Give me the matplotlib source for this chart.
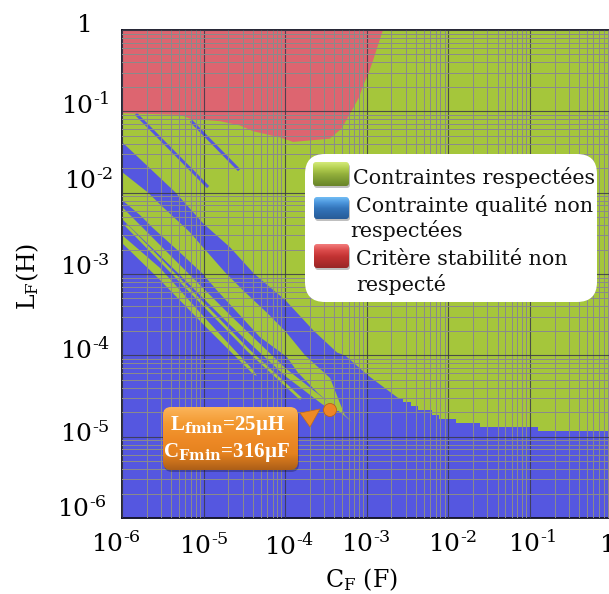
import numpy as np
import matplotlib
matplotlib.use('Agg')
import matplotlib.pyplot as plt
from matplotlib.patches import FancyBboxPatch, Circle, Polygon
from matplotlib.colors import LinearSegmentedColormap
from matplotlib.transforms import ScaledTranslation

plt.rcParams['font.family'] = 'DejaVu Serif'
plt.rcParams['mathtext.fontset'] = 'dejavuserif'

# all values below are log10(C) and log10(L)
red_x = [-6, -5.29, -5.17, -4.805, -4.56, -4.40, -4.05, -3.91, -3.46, -3.32, -3.20, -3.10, -3.05, -2.98, -2.93, -2.87, -2.81]
red_y = [-1.017, -1.037, -1.086, -1.115, -1.168, -1.238, -1.32, -1.37, -1.33, -1.21, -1.004, -0.82, -0.676, -0.513, -0.369, -0.184, 0]

blue_x = [-6, -5.35, -5.01, -4.68, -4.39, -4.00, -3.66, -3.37, -3.27, -2.99, -2.63, -2.593]
blue_y = [-1.377, -1.992, -2.373, -2.668, -2.988, -3.32, -3.689, -3.96, -3.996, -4.242, -4.513, -4.525]

tail_x = [-2.593, -2.556, -2.458, -2.373, -2.201, -2.115, -1.907, -1.613, -0.902, 0]
tail_y = [-4.525, -4.574, -4.623, -4.672, -4.734, -4.783, -4.832, -4.881, -4.931, -4.931]

green_a_x = [-6, -5.69, -5.50, -5.17, -5.01, -4.74, -4.52, -4.22, -3.99, -3.76, -3.45, -3.33, -3.27, -3.18,
             -3.33, -3.60, -3.84, -3.98, -4.31, -4.58, -4.84, -5.02, -5.35, -5.62, -5.78, -6]
green_a_y = [-1.746, -1.992, -2.176, -2.484, -2.668, -2.976, -3.197, -3.48, -3.713, -3.996, -4.279, -4.586, -4.734, -4.82,
             -4.697, -4.463, -4.217, -4.02, -3.775, -3.48, -3.197, -2.988, -2.68, -2.435, -2.275, -2.09]

green_b_x = [-6, -5.326, -4.676, -4.00, -3.549, -3.33, -3.39, -3.549, -4.00, -4.676, -5.326, -6]
green_b_y = [-2.176, -2.853, -3.504, -4.156, -4.513, -4.672, -4.697, -4.599, -4.254, -3.627, -2.976, -2.324]

green_c_x = [-6, -5.534, -4.983, -4.395, -4.346, -4.395, -4.983, -5.534, -6]
green_c_y = [-2.521, -2.926, -3.541, -4.18, -4.254, -4.23, -3.64, -3.074, -2.619]

green_thin_x = [-5.939, -4.456, -3.819]
green_thin_y = [-2.41, -3.935, -4.525]

blue_thin1_x = [-5.816, -4.958]
blue_thin1_y = [-1.045, -1.918]
blue_thin2_x = [-5.142, -4.578]
blue_thin2_y = [-1.131, -1.709]

x_ticks = [-6, -5, -4, -3, -2, -1, 0]
x_labels = ['10$^{\\text{-}6}$', '10$^{\\text{-}5}$', '10$^{\\text{-}4}$', '10$^{\\text{-}3}$', '10$^{\\text{-}2}$', '10$^{\\text{-}1}$', '1']
y_ticks = [0, -1, -2, -3, -4, -5, -6]
y_labels = ['1', '10$^{\\text{-}1}$', '10$^{\\text{-}2}$', '10$^{\\text{-}3}$', '10$^{\\text{-}4}$', '10$^{\\text{-}5}$', '10$^{\\text{-}6}$']

legend_lines = ['Contraintes respectées', 'Contrainte qualité non', 'respectées', 'Critère stabilité non', 'respecté']

GREEN = '#a5c63b'
BLUE = '#5557e0'
RED = '#dd6570'


def p10(v):
    return 10.0 ** np.array(v, dtype=float)


W, H = 609, 594
fig = plt.figure(figsize=(W / 100, H / 100), dpi=100)
ax = fig.add_axes([122 / W, 1 - 518 / H, 489.6 / W, 488 / H])
ax.set_xscale('log')
ax.set_yscale('log')
ax.set_xlim(1e-6, 1)
ax.set_ylim(1e-6, 1)
ax.set_facecolor(GREEN)

ax.fill_between(p10(blue_x), p10(blue_y), 1e-6, color=BLUE, lw=0, zorder=1)
ax.fill_between(p10(tail_x), p10(tail_y), 1e-6, step='post', color=BLUE, lw=0, zorder=1)
ax.fill(p10(green_a_x), p10(green_a_y), color=GREEN, lw=0, zorder=1.2)
ax.fill(p10(green_b_x), p10(green_b_y), color=GREEN, lw=0, zorder=1.2)
ax.fill(p10(green_c_x), p10(green_c_y), color=GREEN, lw=0, zorder=1.2)
ax.plot(p10(green_thin_x), p10(green_thin_y), color=GREEN, lw=2, zorder=1.2)
ax.plot(p10(blue_thin1_x), p10(blue_thin1_y), color=BLUE, lw=2.2, zorder=1.2)
ax.plot(p10(blue_thin2_x), p10(blue_thin2_y), color=BLUE, lw=2.2, zorder=1.2)
ax.fill_between(p10(red_x), p10(red_y), 1, color=RED, lw=0, zorder=1.5)

ax.set_axisbelow(False)
ax.grid(True, which='minor', color='#8a8a8a', lw=0.72, zorder=2)
ax.grid(True, which='major', color='#3a3a4a', lw=0.8, alpha=0.85, zorder=2.1)
ax.xaxis.set_minor_locator(matplotlib.ticker.LogLocator(base=10, subs=range(2, 10), numticks=12))
ax.yaxis.set_minor_locator(matplotlib.ticker.LogLocator(base=10, subs=range(2, 10), numticks=12))
ax.xaxis.set_minor_formatter(matplotlib.ticker.NullFormatter())
ax.yaxis.set_minor_formatter(matplotlib.ticker.NullFormatter())
ax.tick_params(which='both', length=0, pad=0)
for s in ax.spines.values():
    s.set_linewidth(1.3)
    s.set_color('#111122')

# tick labels are placed by hand in the original, each one a bit off
ax.set_xticks(p10(x_ticks), x_labels, fontsize=18, va='baseline')
ax.set_yticks(p10(y_ticks), y_labels, fontsize=18, va='baseline', ha='right')
x_shift = [(-6, 34), (0, 36), (4, 37), (-1, 34), (4, 34), (2, 34), (-4, 34)]
y_shift = [(-29, 2), (-12, 2.7), (-9, -3.7), (-12, 1), (-12, 3), (-12, 5), (-15, -1)]
for lab, (dx, dy) in zip(ax.get_xticklabels(), x_shift):
    lab.set_transform(lab.get_transform() + ScaledTranslation(dx / 100, -dy / 100, fig.dpi_scale_trans))
for lab, (dx, dy) in zip(ax.get_yticklabels(), y_shift):
    lab.set_transform(lab.get_transform() + ScaledTranslation(dx / 100, -dy / 100, fig.dpi_scale_trans))

ax.set_xlabel('C$_{\\mathrm{F}}$ (F)', fontsize=17)
ax.xaxis.set_label_coords(0.49, -0.099)
ax.set_ylabel('L$_{\\mathrm{F}}$(H)', fontsize=17)
ax.yaxis.set_label_coords(-0.166, 0.495)

# overlay in picture pixels for the legend box and the callout
ov = fig.add_axes([0, 0, 1, 1], zorder=5)
ov.patch.set_alpha(0)
ov.axis('off')


def shiny_box(x0, y0, x1, y1, rad, colors):
    cmap = LinearSegmentedColormap.from_list('b', colors)
    shadow = FancyBboxPatch((x0 + 1, y0 + 2), x1 - x0, y1 - y0, boxstyle=f'round,pad=0,rounding_size={rad}',
                            fc='#000000', alpha=0.25, lw=0)
    ov.add_patch(shadow)
    im = ov.imshow(np.linspace(0, 1, 64).reshape(-1, 1), extent=(x0, x1, y1, y0), cmap=cmap, aspect='auto', zorder=2)
    box = FancyBboxPatch((x0, y0), x1 - x0, y1 - y0, boxstyle=f'round,pad=0,rounding_size={rad}',
                         fc='none', lw=0, transform=ov.transData)
    ov.add_patch(box)
    im.set_clip_path(box)


ov.add_patch(FancyBboxPatch((305, 154), 292, 148, boxstyle='round,pad=0,rounding_size=20', fc='white', lw=0, zorder=1))
shiny_box(313, 162, 349, 186, 3, ['#d4ea78', '#b4d050', '#94b03c', '#7c9a32', '#6a842a'])
shiny_box(314, 197, 349, 219, 3, ['#70bcf4', '#4c96dc', '#3476bc', '#2c68aa', '#285c98'])
shiny_box(314, 244, 349, 268, 3, ['#f27c7c', '#dc4c4c', '#c43434', '#b02c2c', '#982626'])

legend_pos = [(353, 184), (356, 212), (350, 237), (356, 265), (356, 291)]
for txt, (lx, ly) in zip(legend_lines, legend_pos):
    ov.text(lx, ly, txt, fontsize=14.9, color='#111111', va='baseline', ha='left', zorder=3)

shiny_box(163, 407, 298, 470, 8, ['#fbb45a', '#f39a32', '#ee8a26', '#e5821f', '#ad5f18'])
ov.add_patch(Polygon([(300, 413), (320, 409), (310, 427)], closed=True, fc='#ee8a26', ec='#c06a18', lw=0.5, zorder=3))
ov.add_patch(Circle((330, 410), 6.5, fc='#ee8526', ec='#b8621a', lw=0.6, zorder=3))
ov.text(228, 430, 'L$_{\\mathbf{fmin}}$=25µH', fontsize=15, color='white', family='Liberation Serif', weight='bold',
        ha='center', va='baseline', zorder=4)
ov.text(226, 457, 'C$_{\\mathbf{Fmin}}$=316µF', fontsize=15, color='white', family='Liberation Serif', weight='bold',
        ha='center', va='baseline', zorder=4)

ov.set_xlim(0, W)
ov.set_ylim(H, 0)

fig.savefig('out.png', dpi=100)
